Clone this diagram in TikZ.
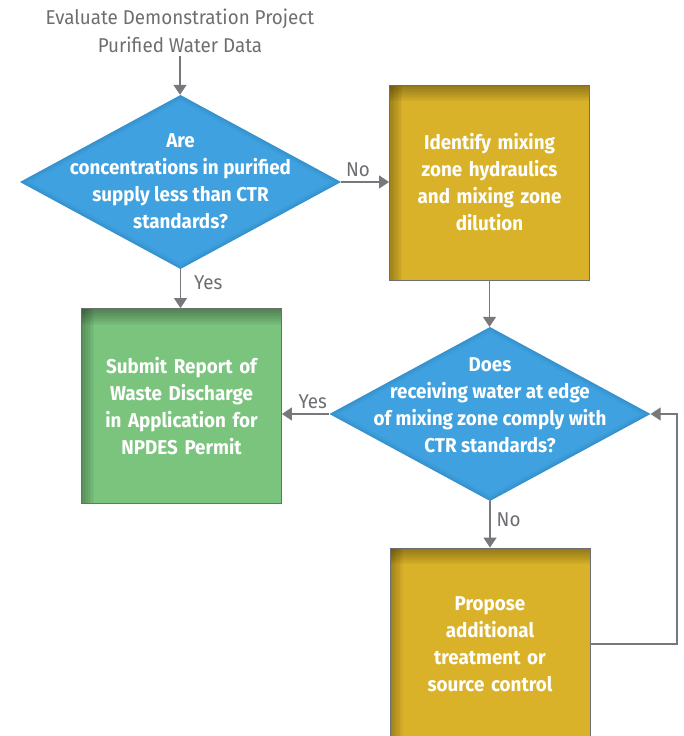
\documentclass[tikz,border=0pt]{standalone}
\usepackage{fontspec}
\setmainfont{Fira Sans}[FakeStretch=0.94]
\usetikzlibrary{shapes.geometric,arrows.meta}

\definecolor{qblue}{HTML}{3FA1DF}
\definecolor{qblueedge}{HTML}{1F6EA6}
\definecolor{qgold}{HTML}{D9B229}
\definecolor{qgreen}{HTML}{7BC47E}
\definecolor{qline}{HTML}{77787B}
\definecolor{qtext}{HTML}{6D6E71}

\tikzset{
  decision/.style={diamond, draw=none, fill=qblue, inner sep=0pt,
    minimum width=321pt, minimum height=174pt,
    path picture={
      \foreach \w/\o in {10/0.08,6/0.10,3/0.14}
        \draw[qblueedge, line width=\w pt, opacity=\o, line join=miter]
          (path picture bounding box.north) -- (path picture bounding box.east)
          -- (path picture bounding box.south) -- (path picture bounding box.west) -- cycle;
    }},
  % inner shadow along the top and left edges, built from stacked translucent strips
  stepbox/.style={rectangle, fill=#1, draw=qtext, line width=0.8pt,
    minimum width=200pt, minimum height=195pt, inner sep=0pt,
    text width=185pt, align=center, text=white,
    font=\bfseries\fontsize{20}{27}\selectfont,
    path picture={
      \foreach \k in {1,...,8}
        \fill[black, opacity=0.035]
          (path picture bounding box.north west) rectangle
          ([xshift=1.6*\k pt]path picture bounding box.south west);
      \foreach \k in {1,...,8}
        \fill[black, opacity=0.045]
          (path picture bounding box.north west) rectangle
          ([yshift=-2*\k pt]path picture bounding box.north east);
    }},
  qtitle/.style={text=white, align=center, inner sep=0pt,
    font=\bfseries\fontsize{20}{27}\selectfont},
  flow/.style={draw=qline, line width=1.4pt,
    -{Triangle[width=13pt,length=10pt]}},
  tag/.style={text=qtext, font=\fontsize{20}{24}\selectfont, inner sep=2pt},
}

\begin{document}
\begin{tikzpicture}[x=1pt,y=-1pt]
  \useasboundingbox (0,0) rectangle (683,736);
  \clip (0,0) rectangle (683,736);

  % start text
  \node[text=qtext, align=center, inner sep=3pt,
        font=\fontsize{20}{28}\selectfont] (start) at (180,31)
    {Evaluate Demonstration Project\\Purified Water Data};

  % decisions
  \node[decision] (d1) at (180.5,182) {};
  \node[qtitle] (d1t) at (180.5,181)
    {Are\\concentrations in purified\\supply less than CTR\\standards?};

  \node[decision] (d2) at (490,414) {};
  \node[qtitle] (d2t) at (490,405)
    {Does\\receiving water at edge\\of mixing zone comply with\\CTR standards?};

  % process boxes
  \node[stepbox=qgold] (ident) at (489.5,182.5)
    {Identify mixing\\zone hydraulics\\and mixing zone\\dilution};
  \node[stepbox=qgreen] (submit) at (181.5,406)
    {Submit Report of\\Waste Discharge\\in Application for\\NPDES Permit};
  \node[stepbox=qgold, minimum height=192pt] (prop) at (490,644)
    {Propose\\additional\\treatment or\\source control};

  % connectors
  \coordinate (loop) at (677,644);
  \draw[flow] (start) -- (start |- d1.north);
  \draw[flow] (d1.south) -- node[tag, right=11pt, pos=0.35] {Yes} (d1.south |- submit.north);
  \draw[flow] (d1.east) -- node[tag, above=3pt, pos=0.35] {No} (d1.east -| ident.west);
  \draw[flow] (ident.south) -- (ident.south |- d2.north);
  \draw[flow] (d2.west) -- node[tag, above=3pt, pos=0.35] {Yes} (d2.west -| submit.east);
  \draw[flow] (d2.south) -- node[tag, right=4pt, pos=0.4] {No} (prop.north);
  \draw[flow] (prop.east) -- (loop) |- (d2.east);
\end{tikzpicture}
\end{document}
